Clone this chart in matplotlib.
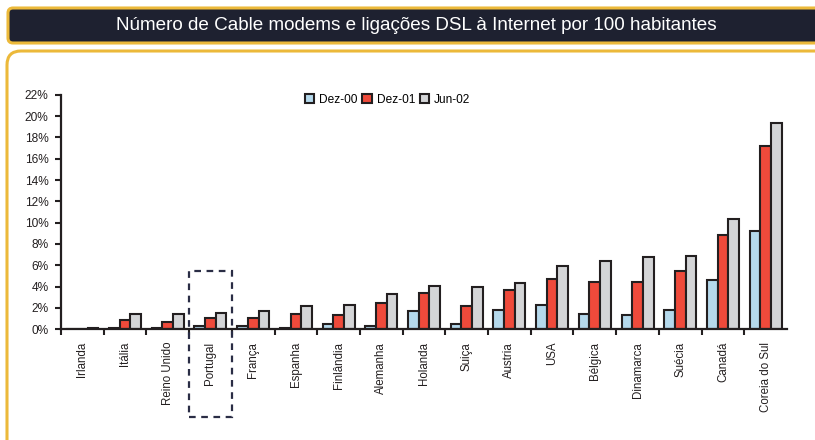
import matplotlib
matplotlib.use("Agg")
import matplotlib.pyplot as plt
import numpy as np
from matplotlib.patches import FancyBboxPatch, Rectangle

plt.rcParams['font.family'] = ['Liberation Sans', 'DejaVu Sans']

title = "Número de Cable modems e ligações DSL à Internet por 100 habitantes"
categories = ["Irlanda", "Itália", "Reino Unido", "Portugal", "França", "Espanha",
              "Finlândia", "Alemanha", "Holanda", "Suiça", "Austria", "USA",
              "Bélgica", "Dinamarca", "Suécia", "Canadá", "Coreia do Sul"]
series_names = ["Dez-00", "Dez-01", "Jun-02"]
dez00 = [0.00, 0.10, 0.10, 0.34, 0.34, 0.10, 0.53, 0.34, 1.69, 0.53, 1.84, 2.30,
         1.46, 1.37, 1.84, 4.65, 9.24]
dez01 = [0.05, 0.87, 0.72, 1.03, 1.03, 1.40, 1.37, 2.50, 3.43, 2.20, 3.71, 4.68,
         4.46, 4.46, 5.49, 8.87, 17.20]
jun02 = [0.15, 1.40, 1.40, 1.50, 1.72, 2.20, 2.30, 3.28, 4.03, 4.00, 4.31, 5.96,
         6.43, 6.78, 6.90, 10.37, 19.30]
colors = ["#b5d9ec", "#ef4a3b", "#d4d5d7"]
yticks = list(range(0, 23, 2))
highlight = "Portugal"

W, H = 815, 440
fig = plt.figure(figsize=(W / 100, H / 100), dpi=100)

# background frame
bg = fig.add_axes([0, 0, 1, 1], zorder=0)
bg.set_xlim(0, W)
bg.set_ylim(H, 0)
bg.axis("off")
gold = "#ecb93a"
bg.add_patch(FancyBboxPatch((8, 8), 830, 35, boxstyle="round,pad=0,rounding_size=5",
                            fc="#1e2130", ec=gold, lw=2.2))
bg.add_patch(FancyBboxPatch((7, 51), 840, 420, boxstyle="round,pad=0,rounding_size=14",
                            fc="white", ec=gold, lw=2.2))
bg.text(416, 25.5, title, color="white", fontsize=13.6, ha="center", va="center")

ax = fig.add_axes([61 / W, (H - 329.3) / H, (787 - 61) / W, (329.3 - 94.7) / H], zorder=1)
ax.patch.set_alpha(0)
x = np.arange(len(categories))
bw = 0.25
for k, (vals, c, name) in enumerate(zip([dez00, dez01, jun02], colors, series_names)):
    ax.bar(x + (k - 1) * bw, np.array(vals) / 100, width=bw, color=c,
           edgecolor="#231f20", linewidth=1.5, label=name, zorder=2)

ax.set_xlim(-0.5, len(categories) - 0.5)
ax.set_ylim(0, 0.22)
ax.set_yticks([t / 100 for t in yticks])
ax.set_yticklabels([f"{t}%" for t in yticks])
ax.set_xticks(x)
ax.set_xticklabels(categories, rotation=90, va="top", ha="center")
ax.set_xticks(np.arange(-0.5, len(categories) - 0.5, 1.0), minor=True)
ax.tick_params(axis="x", which="major", length=0, pad=9, labelsize=8.3, labelcolor="#231f20")
ax.tick_params(axis="x", which="minor", length=4, width=1.5, direction="out", color="#231f20")
ax.tick_params(axis="y", length=4, width=1.5, direction="out", color="#231f20",
               labelsize=8.6, labelcolor="#231f20", pad=5)
for s in ["top", "right"]:
    ax.spines[s].set_visible(False)
for s in ["left", "bottom"]:
    ax.spines[s].set_linewidth(1.6)
    ax.spines[s].set_color("#231f20")

leg = ax.legend(loc="upper left", bbox_to_anchor=((300 - 61) / (787 - 61), 1.025), ncol=3,
                frameon=False, fontsize=8.6, handlelength=0.8, handleheight=0.8,
                handletextpad=0.4, columnspacing=0.4, borderaxespad=0)

# dashed highlight box around Portugal
i = categories.index(highlight)
rect = Rectangle((i - 0.5, -0.082), 1.0, 0.137, fill=False, ls=(0, (3, 2.5)),
                 lw=1.6, ec="#2a2d45", clip_on=False, zorder=3)
ax.add_patch(rect)

fig.savefig("out.png", dpi=100)
